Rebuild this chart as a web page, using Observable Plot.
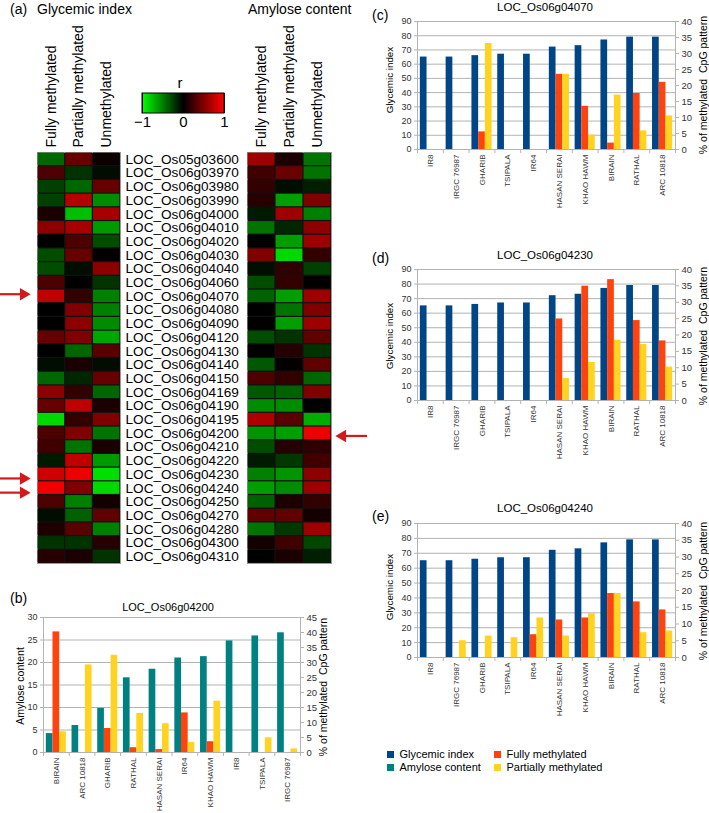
<!DOCTYPE html>
<html><head><meta charset="utf-8">
<script src="https://cdn.jsdelivr.net/npm/d3@7"></script>
<script src="https://cdn.jsdelivr.net/npm/@observablehq/plot@0.6"></script>
<style>
body{margin:0;background:#fff;}
#fig{position:relative;width:709px;height:813px;overflow:hidden;font-family:"Liberation Sans",Arial,sans-serif;color:#000;}
.box{position:absolute;}
.box svg{max-width:none !important;}
.leg2, .leg2 *{column-gap:0 !important;overflow:visible !important;text-overflow:clip !important;}
.t{position:absolute;white-space:pre;line-height:1;}
</style></head><body><div id="fig"></div><script>
// ---------- DATA ----------
const genes = ["LOC_Os05g03600","LOC_Os06g03970","LOC_Os06g03980","LOC_Os06g03990","LOC_Os06g04000","LOC_Os06g04010","LOC_Os06g04020","LOC_Os06g04030","LOC_Os06g04040","LOC_Os06g04060","LOC_Os06g04070","LOC_Os06g04080","LOC_Os06g04090","LOC_Os06g04120","LOC_Os06g04130","LOC_Os06g04140","LOC_Os06g04150","LOC_Os06g04169","LOC_Os06g04190","LOC_Os06g04195","LOC_Os06g04200","LOC_Os06g04210","LOC_Os06g04220","LOC_Os06g04230","LOC_Os06g04240","LOC_Os06g04250","LOC_Os06g04270","LOC_Os06g04280","LOC_Os06g04300","LOC_Os06g04310"];
const heatColumns = ["Fully methylated","Partially methylated","Unmethylated"];
// correlation r, Glycemic index
const giFully   = [-0.4,0.3,-0.25,-0.25,0.1,0.55,0,-0.3,-0.3,0.3,0.75,0,0,0.4,0,-0.05,-0.4,0.55,0.4,-0.85,0.3,0.25,-0.1,0.82,0.95,0.3,-0.05,0.12,-0.2,0.15];
const giPartial = [0.4,-0.2,-0.4,0.7,-0.75,0.65,0.3,0.4,-0.05,0,0.2,0.5,0.55,0.5,-0.4,0.1,-0.15,0.2,0.75,0.2,0.5,-0.45,0.75,0.93,0.5,-0.5,-0.38,0.35,-0.2,0.1];
const giUnmeth  = [0.05,-0.05,0.4,-0.55,0.65,-0.6,-0.3,0.02,0.55,-0.2,-0.5,-0.5,-0.55,-0.65,0.35,-0.05,0.4,-0.4,0.1,0.5,-0.45,0.1,-0.6,-0.88,-0.85,0.08,0.38,-0.5,0.15,-0.2];
// correlation r, Amylose content
const amFully   = [0.62,0.25,0.2,0.15,-0.1,-0.45,0,0.5,-0.06,-0.3,-0.38,0,0,-0.3,0,-0.35,0.3,-0.35,-0.55,0.68,-0.58,-0.3,-0.1,-0.5,-0.62,-0.38,0.38,-0.45,0.08,0];
const amPartial = [0.1,0.42,-0.05,-0.62,0.62,-0.15,-0.62,-0.85,0.18,0.2,-0.62,-0.45,-0.62,-0.2,0.15,0.02,0.2,-0.38,-0.55,0.35,-0.62,0.15,-0.22,-0.58,-0.55,0.1,0.38,-0.22,0.25,0.1];
const amUnmeth  = [-0.45,-0.45,-0.12,0.5,-0.5,0.55,0.62,0.2,-0.25,0.02,0.62,0.5,0.62,0.38,-0.2,0.38,-0.4,0.5,0,-0.68,0.93,0.18,0.25,0.55,0.62,0.2,0.08,0.62,-0.28,-0.12];
const legendTicks = [-1, 0, 1];
const leftArrowGenes = ["LOC_Os06g04070","LOC_Os06g04230","LOC_Os06g04240"];
const rightArrowGenes = ["LOC_Os06g04200"];

// panel (b)
const bCultivars = ["BIRAIN","ARC 10818","GHARIB","RATHAL","HASAN SERAI","IR64","KHAO HAWM","IR8","TSIPALA","IRGC 76987"];
const amylose    = [4.2,6.0,9.8,16.6,18.5,21.0,21.3,24.8,25.9,26.6];
const bFully     = [40.2,0,8.0,1.6,1.0,13.2,3.6,0,0,0];
const bPartial   = [6.9,29.2,32.4,13.0,9.6,3.3,17.1,0,4.9,1.2];
const bLeftTicks = [0,5,10,15,20,25,30];
const bRightTicks = [0,5,10,15,20,25,30,35,40,45];

// panels (c)-(e)
const cdeCultivars = ["IR8","IRGC 76987","GHARIB","TSIPALA","IR64","HASAN SERAI","KHAO HAWM","BIRAIN","RATHAL","ARC 10818"];
const glycemicIndex = [65,65,66,67,67,72,73,77,79,79];
const cFully   = [0,0,5.5,0,0,23.5,13.5,2.0,17.5,21.0];
const cPartial = [0,0,33.1,0,0,23.5,4.5,17.0,5.8,10.5];
const dFully   = [0,0,0,0,0,24.9,34.9,36.9,24.4,18.2];
const dPartial = [0,0,0,0,0,6.7,11.6,18.4,17.1,10.2];
const eFully   = [0,0,0,0,6.8,11.2,11.8,19.1,16.6,14.2];
const ePartial = [0,5.0,6.4,5.9,11.8,6.4,13.1,19.1,7.4,7.9];
const giTicks = [0,10,20,30,40,50,60,70,80,90];
const pctTicks = [0,5,10,15,20,25,30,35,40];

const seriesNames = ["Glycemic index","Amylose content","Fully methylated","Partially methylated"];
const seriesColors = ["#004586","#008080","#ff420e","#ffd320"];

// ---------- LAYOUT HELPERS ----------
const FONT = '"Liberation Sans", Arial, sans-serif';
const fig = document.getElementById("fig");
function place(node, left, top, width) {
  const d = document.createElement("div");
  d.className = "box";
  d.style.left = left + "px"; d.style.top = top + "px";
  if (width) d.style.width = width + "px";
  d.appendChild(node); fig.appendChild(d); return d;
}
function text(str, x, y, size, {anchor = "start", rotate = false} = {}) {
  const s = document.createElement("div");
  s.className = "t"; s.textContent = str;
  s.style.fontSize = size + "px";
  s.style.left = x + "px"; s.style.top = y + "px";
  const tx = anchor === "middle" ? "-50%" : "0";
  s.style.transform = rotate ? "translate(-50%,-50%) rotate(-90deg)" : `translate(${tx},-50%)`;
  fig.appendChild(s);
}
const baseStyle = {fontFamily: FONT, background: "transparent", overflow: "visible", color: "#000"};

// ---------- HEATMAPS ----------
const colorScale = {type: "linear", domain: [-1, 0, 1], range: ["#00ff00", "#000000", "#ff0000"], interpolate: "rgb"};
function heatRows(cols) {
  return genes.flatMap((g, i) => heatColumns.map((c, j) => ({gene: g, col: c, r: cols[j][i]})));
}
function heatmap(cols, {width, marginLeft, marginRight, labels}) {
  return Plot.plot({
    width, height: 575, marginLeft, marginRight, marginTop: 152, marginBottom: 12,
    style: {...baseStyle, fontSize: "14px"},
    x: {domain: heatColumns, padding: 0, round: false, label: null, axis: null},
    y: {domain: genes, padding: 0, round: false, label: null, axis: null},
    color: colorScale,
    marks: [
      Plot.frame({fill: "#111", stroke: "#9a9a9a"}),
      Plot.cell(heatRows(cols), {x: "col", y: "gene", fill: "r", inset: 0.6}),
      Plot.axisX({anchor: "top", tickRotate: -90, tickSize: 0, tickPadding: 5, label: null, fontSize: 14}),
      labels ? Plot.axisY({anchor: "right", tickSize: 0, tickPadding: 5, label: null, fontSize: 13.6}) : null
    ]
  });
}
place(heatmap([giFully, giPartial, giUnmeth], {width: 250, marginLeft: 37, marginRight: 130, labels: true}), 0, 0, 250);
place(heatmap([amFully, amPartial, amUnmeth], {width: 135, marginLeft: 37, marginRight: 14, labels: false}), 210, 0, 135);

// arrows
const RED = "#d21a1a";
function arrowOverlay(list, width, dir) {
  const tip = dir > 0 ? width - 7 : 2;
  const center = tip - dir * 7;
  const tail = dir > 0 ? 0 : width;
  return Plot.plot({
    width, height: 575, marginLeft: 0, marginRight: 0, marginTop: 152, marginBottom: 12,
    style: baseStyle,
    x: {domain: [0, width], axis: null},
    y: {domain: genes, padding: 0, round: false, axis: null},
    marks: [
      Plot.ruleY(list, {y: d => d, x1: tail, x2: center, stroke: RED, strokeWidth: 2.2}),
      Plot.dot(list, {y: d => d, x: center, symbol: "triangle", r: 4.6, fill: RED, rotate: dir > 0 ? 90 : -90})
    ]
  });
}
place(arrowOverlay(leftArrowGenes, 37, 1), 0, 0, 37);
place(arrowOverlay(rightArrowGenes, 34, -1), 333, 0, 34);

// color legend
const leg = Plot.legend({
  color: colorScale, width: 102, height: 58, marginLeft: 10, marginRight: 10, marginTop: 18, marginBottom: 20,
  ticks: legendTicks, tickFormat: "d", tickSize: 0, label: null,
  style: {fontFamily: FONT, fontSize: "15px", background: "transparent", overflow: "visible", color: "#000"}
});
place(leg, 132, 75, 102);
{
  const img = leg.querySelector("image");
  if (img) {
    d3.select(img.parentNode).append("rect")
      .attr("x", img.getAttribute("x")).attr("y", img.getAttribute("y"))
      .attr("width", img.getAttribute("width")).attr("height", img.getAttribute("height"))
      .attr("fill", "none").attr("stroke", "#000").attr("stroke-width", 1);
  }
}

// ---------- BAR PANELS ----------
function barPanel({cultivars, primary, primaryColor, fully, partial, leftMax, leftTicks, rightMax, rightTicks,
                   width, height, mL, mR, mT, mB}) {
  const k = leftMax / rightMax;
  const rows = cultivars.map((c, i) => ({c, p: primary[i], f: fully[i] * k, q: partial[i] * k}));
  const innerW = width - mL - mR, innerH = height - mT - mB;
  const bw = innerW / cultivars.length, barW = bw * 0.26, pad = (bw - 3 * barW) / 2;
  const ins = i => ({insetLeft: pad + i * barW, insetRight: bw - pad - (i + 1) * barW});
  const tickLen = 4 * leftMax / innerH;
  const last = cultivars[cultivars.length - 1];
  const G = "#b3b3b3";
  return Plot.plot({
    width, height, marginLeft: mL, marginRight: mR, marginTop: mT, marginBottom: mB,
    style: {...baseStyle, fontSize: "9px", color: "#333"},
    x: {domain: cultivars, padding: 0, round: false, label: null, axis: null},
    y: {domain: [0, leftMax], label: null, axis: null},
    marks: [
      Plot.gridY(leftTicks, {stroke: G, strokeOpacity: 1}),
      Plot.ruleX([cultivars[0]], {dx: -bw / 2, y1: 0, y2: leftMax, stroke: G}),
      Plot.ruleX([last], {dx: bw / 2, y1: 0, y2: leftMax, stroke: G}),
      Plot.ruleX(cultivars, {dx: -bw / 2, y1: 0, y2: -tickLen, stroke: G}),
      Plot.ruleX([last], {dx: bw / 2, y1: 0, y2: -tickLen, stroke: G}),
      Plot.barY(rows, {x: "c", y: "p", fill: primaryColor, ...ins(0)}),
      Plot.barY(rows, {x: "c", y: "f", fill: seriesColors[2], ...ins(1)}),
      Plot.barY(rows, {x: "c", y: "q", fill: seriesColors[3], ...ins(2)}),
      Plot.axisY(leftTicks, {anchor: "left", tickSize: 3, tickPadding: 3, stroke: G, label: null, fontSize: 9}),
      Plot.axisY(rightTicks.map(t => t * k), {anchor: "right", tickSize: 3, tickPadding: 3, stroke: G, label: null, fontSize: 9.5,
        tickFormat: d => String(Math.round(d / k))}),
      Plot.axisX({anchor: "bottom", tickRotate: -90, tickSize: 0, tickPadding: 5, label: null, fontSize: 8})
    ]
  });
}

// (b)
place(barPanel({cultivars: bCultivars, primary: amylose, primaryColor: seriesColors[1], fully: bFully, partial: bPartial,
  leftMax: 30, leftTicks: bLeftTicks, rightMax: 45, rightTicks: bRightTicks,
  width: 340, height: 217, mL: 43, mR: 40, mT: 21, mB: 61}), 0, 596, 340);
// (c)
place(barPanel({cultivars: cdeCultivars, primary: glycemicIndex, primaryColor: seriesColors[0], fully: cFully, partial: cPartial,
  leftMax: 90, leftTicks: giTicks, rightMax: 40, rightTicks: pctTicks,
  width: 349, height: 215, mL: 57, mR: 34, mT: 21, mB: 66}), 360, 0, 349);
// (d)
place(barPanel({cultivars: cdeCultivars, primary: glycemicIndex, primaryColor: seriesColors[0], fully: dFully, partial: dPartial,
  leftMax: 90, leftTicks: giTicks, rightMax: 40, rightTicks: pctTicks,
  width: 349, height: 218, mL: 57, mR: 34, mT: 21, mB: 66}), 360, 248, 349);
// (e)
place(barPanel({cultivars: cdeCultivars, primary: glycemicIndex, primaryColor: seriesColors[0], fully: eFully, partial: ePartial,
  leftMax: 90, leftTicks: giTicks, rightMax: 40, rightTicks: pctTicks,
  width: 349, height: 221, mL: 57, mR: 34, mT: 21, mB: 66}), 360, 502, 349);

// series legend
const sLeg = Plot.legend({
  color: {type: "ordinal", domain: seriesNames, range: seriesColors},
  swatchSize: 7, columns: 2,
  style: {fontFamily: FONT, fontSize: "11px", color: "#000", background: "transparent"}
});
place(sLeg, 387, 748, 214).classList.add("leg2");

// ---------- TEXTS ----------
text("(a)", 10, 9, 14);
text("Glycemic index", 37, 9, 14);
text("Amylose content", 248, 9, 14);
text("r", 180, 82, 15, {anchor: "middle"});
text("(b)", 10, 598, 14);
text("LOC_Os06g04200", 168, 607, 11, {anchor: "middle"});
text("Amylose content", 20, 686, 10.5, {rotate: true});
text("% of methylated  CpG pattern", 323, 687, 10.5, {rotate: true});
text("(c)", 372, 15, 14);
text("LOC_Os06g04070", 545, 8, 11.5, {anchor: "middle"});
text("Glycemic index", 390, 80, 9.8, {rotate: true});
text("% of methylated  CpG pattern", 703, 85, 10.5, {rotate: true});
text("(d)", 372, 258, 14);
text("LOC_Os06g04230", 545, 256, 11.5, {anchor: "middle"});
text("Glycemic index", 390, 336, 9.8, {rotate: true});
text("% of methylated  CpG pattern", 703, 336, 10.5, {rotate: true});
text("(e)", 372, 516, 14);
text("LOC_Os06g04240", 545, 509, 11.5, {anchor: "middle"});
text("Glycemic index", 390, 587, 9.8, {rotate: true});
text("% of methylated  CpG pattern", 703, 591, 10.5, {rotate: true});
</script></body></html>
